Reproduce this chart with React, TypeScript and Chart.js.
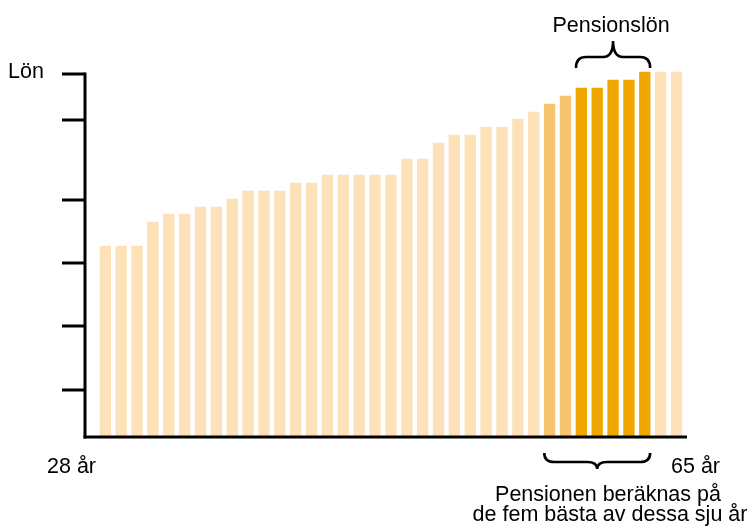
import React, { useEffect, useRef } from "react";
import { Chart, registerables } from "chart.js";

Chart.register(...registerables);

// Ages (one bar per year of working life)
const years: number[] = [
  28, 29, 30, 31, 32, 33, 34, 35, 36, 37, 38, 39, 40, 41, 42, 43, 44, 45, 46,
  47, 48, 49, 50, 51, 52, 53, 54, 55, 56, 57, 58, 59, 60, 61, 62, 63, 64,
];
// Salary (relative units)
const salary: number[] = [
  191, 191, 191, 215, 223, 223, 230, 230, 238, 246, 246, 246, 254, 254, 262,
  262, 262, 262, 262, 278, 278, 294, 302, 302, 310, 310, 318, 325, 333, 341,
  349, 349, 357, 357, 365, 365, 365,
];
// Role of each bar: 0 = normal, 1 = one of the seven last-considered years, 2 = five best years
const roles: number[] = [
  0, 0, 0, 0, 0, 0, 0, 0, 0, 0, 0, 0, 0, 0, 0, 0, 0, 0, 0, 0, 0, 0, 0, 0, 0, 0,
  0, 0, 1, 1, 2, 2, 2, 2, 2, 0, 0,
];
const yTicks: number[] = [363, 317, 237, 174, 111, 47];

const yAxisLabel = "Lön";
const startLabel = "28 år";
const endLabel = "65 år";
const topNote = "Pensionslön";
const bottomNote = ["Pensionen beräknas på", "de fem bästa av dessa sju år"];
const topBracketYears: [number, number] = [58, 62];
const bottomBracketYears: [number, number] = [56, 62];

const roleColors = ["#FDE1B8", "#F7C56F", "#F0A800"];
const FONT = '21.5px "Liberation Sans", Arial, sans-serif';
const BAR_W = 10.7;

function braceUp(ctx: CanvasRenderingContext2D, x1: number, x2: number, yEnd: number, yH: number, yTip: number) {
  const xm = (x1 + x2) / 2;
  const r = Math.min(10, (xm - x1) / 3);
  ctx.beginPath();
  ctx.moveTo(x1, yEnd);
  ctx.quadraticCurveTo(x1, yH, x1 + r, yH);
  ctx.lineTo(xm - r, yH);
  ctx.quadraticCurveTo(xm, yH, xm, yTip);
  ctx.quadraticCurveTo(xm, yH, xm + r, yH);
  ctx.lineTo(x2 - r, yH);
  ctx.quadraticCurveTo(x2, yH, x2, yEnd);
  ctx.stroke();
}

const annotate = {
  id: "annotate",
  afterDraw(chart: any) {
    const { ctx, scales } = chart;
    const x = scales.x;
    const y = scales.y;
    const y0 = y.getPixelForValue(0);
    const yTop = y.getPixelForValue(yTicks[0]);
    const xl = x.left;
    ctx.save();
    ctx.strokeStyle = "#000";
    ctx.lineWidth = 3;
    ctx.lineCap = "butt";
    // y axis
    ctx.beginPath();
    ctx.moveTo(xl, yTop - 1.5);
    ctx.lineTo(xl, y0 + 1.5);
    ctx.stroke();
    // y ticks
    for (const t of yTicks) {
      const py = y.getPixelForValue(t);
      ctx.beginPath();
      ctx.moveTo(xl - 23, py);
      ctx.lineTo(xl, py);
      ctx.stroke();
    }
    // x axis
    ctx.beginPath();
    ctx.moveTo(xl - 1.5, y0);
    ctx.lineTo(x.right, y0);
    ctx.stroke();

    // brackets
    ctx.lineWidth = 2.6;
    const tA = x.getPixelForValue(topBracketYears[0]) - BAR_W / 2;
    const tB = x.getPixelForValue(topBracketYears[1]) + BAR_W / 2;
    braceUp(ctx, tA, tB, 68, 57, 41);
    const bA = x.getPixelForValue(bottomBracketYears[0]) - BAR_W / 2;
    const bB = x.getPixelForValue(bottomBracketYears[1]) + BAR_W / 2;
    braceUp(ctx, bA, bB, 453, 462, 469);

    // texts
    ctx.fillStyle = "#000";
    ctx.font = FONT;
    ctx.textBaseline = "alphabetic";
    ctx.textAlign = "left";
    ctx.fillText(yAxisLabel, 8, 78);
    ctx.fillText(startLabel, 47, 473);
    ctx.fillText(endLabel, 671, 473);
    ctx.textAlign = "center";
    ctx.fillText(topNote, (tA + tB) / 2 - 2, 32);
    ctx.fillText(bottomNote[0], 608, 501);
    ctx.fillText(bottomNote[1], 610, 521);
    ctx.restore();
  },
};

export default function App() {
  const ref = useRef<HTMLCanvasElement | null>(null);
  useEffect(() => {
    if (!ref.current) return;
    const chart = new Chart(ref.current, {
      type: "bar",
      data: {
        datasets: [
          {
            data: years.map((yr, i) => ({ x: yr, y: salary[i] })),
            backgroundColor: roles.map((r) => roleColors[r]),
            borderWidth: 0,
            barThickness: BAR_W,
            clip: false,
          } as any,
        ],
      },
      options: {
        responsive: false,
        animation: false,
        events: [],
        layout: { padding: { left: 85, top: 74, right: 63, bottom: 90 } },
        plugins: { legend: { display: false }, tooltip: { enabled: false } },
        scales: {
          x: { type: "linear", display: false, offset: false, min: 26.72, max: 64.66 },
          y: { display: false, min: 0, max: 363 },
        },
      },
      plugins: [annotate],
    });
    return () => chart.destroy();
  }, []);
  return (
    <div style={{ position: "absolute", left: 0, top: 0, width: 750, height: 527, background: "#fff" }}>
      <canvas ref={ref} width={750} height={527} />
    </div>
  );
}
